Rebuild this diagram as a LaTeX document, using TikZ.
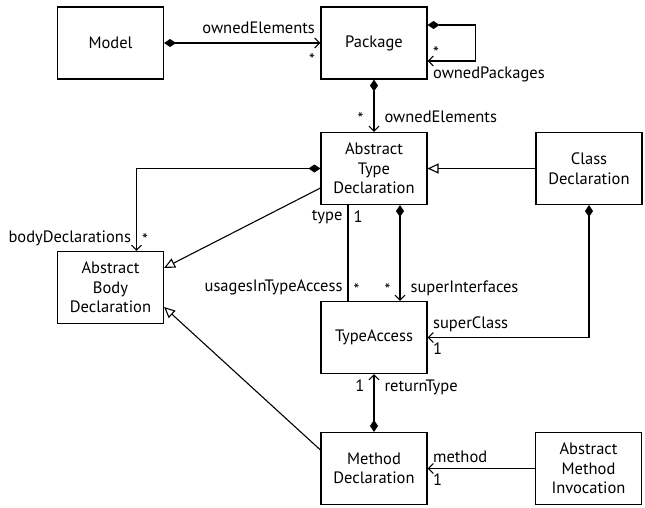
\documentclass[tikz,border=0pt]{standalone}
\usepackage{fontspec}
\setmainfont{PT Sans}
\usetikzlibrary{arrows.meta}

\tikzset{
  cls/.style={shape=rectangle,draw,minimum width=106pt,minimum height=72pt,align=center,inner sep=2pt},
  lbl/.style={inner sep=5pt},
  comp/.style={{Diamond[length=12pt,width=8pt]}-{Straight Barb[length=5pt,width=10pt]}},
  inh/.style={-{Triangle[open,length=11pt,width=10pt]}}
}

\begin{document}
\begin{tikzpicture}[x=1pt,y=-1pt,line width=1.1pt,>={Straight Barb[length=5pt,width=10pt]},
    font=\fontsize{16.5}{19.5}\selectfont]
  \useasboundingbox (0,0) rectangle (645,507);

  \node[cls] (Model)                                   at (110.5,43) {Model};
  \node[cls] (Package)  [right of=Model,   node distance=263.5pt]  {Package};
  \node[cls] (TypeDecl) [below of=Package, node distance=125.5pt]  {Abstract\\Type\\Declaration};
  \node[cls] (ClassDecl)[right of=TypeDecl,node distance=215pt]    {Class\\Declaration};
  \node[cls] (TypeAcc)  [below of=TypeDecl,node distance=169pt]    {TypeAccess};
  \node[cls] (MethDecl) [below of=TypeAcc, node distance=131pt]    {Method\\Declaration};
  \node[cls] (MethInv)  [right of=MethDecl,node distance=214.5pt]  {Abstract\\Method\\Invocation};
  \node[cls] (BodyDecl) [below of=Model,   node distance=244.5pt]  {Abstract\\Body\\Declaration};

  % compositions
  \draw[comp] (Model) -- (Package)
    node[lbl,pos=1,above left,yshift=4pt] {ownedElements} node[lbl,pos=1,below left,yshift=-5pt] {*};
  \draw[comp] ([yshift=18pt]Package.east) -- ++(48,0) |- ([yshift=-18pt]Package.east)
    node[lbl,pos=1,above right,yshift=-3pt] {*} node[lbl,pos=1,below right] {ownedPackages};
  \draw[comp] (Package) -- (TypeDecl)
    node[lbl,pos=1,above left,xshift=-5pt,yshift=2pt] {*}
    node[lbl,pos=1,above right,xshift=5pt,yshift=4pt] {ownedElements};
  \draw[comp] (TypeDecl.west) -| ([xshift=26pt]BodyDecl.north)
    node[lbl,pos=1,above left] {bodyDeclarations} node[lbl,pos=1,above right] {*};
  \draw[comp] ([xshift=26pt]TypeDecl.south) -- ([xshift=26pt]TypeAcc.north)
    node[lbl,pos=1,above left,xshift=-4pt] {*} node[lbl,pos=1,above right,xshift=5pt] {superInterfaces};
  \draw[comp] (ClassDecl.south) |- (TypeAcc.east)
    node[lbl,pos=1,above right] {superClass} node[lbl,pos=1,below right] {1};
  \draw[comp] (MethDecl) -- (TypeAcc)
    node[lbl,pos=1,below left,xshift=-4pt] {1} node[lbl,pos=1,below right,xshift=5pt] {returnType};

  % plain associations
  \draw ([xshift=-26pt]TypeDecl.south) -- ([xshift=-26pt]TypeAcc.north)
    node[lbl,pos=0,below left] {type} node[lbl,pos=0,below right] {1}
    node[lbl,pos=1,above left] {usagesInTypeAccess} node[lbl,pos=1,above right] {*};
  \draw[->] (MethInv) -- (MethDecl)
    node[lbl,pos=1,above right] {method} node[lbl,pos=1,below right] {1};

  % generalizations
  \draw[inh] (ClassDecl) -- (TypeDecl);
  \draw[inh] ([yshift=-19.5pt]TypeDecl.west) -- ([yshift=19.5pt]BodyDecl.east);
  \draw[inh] ([yshift=18.5pt]MethDecl.west) -- ([yshift=-19.5pt]BodyDecl.east);
\end{tikzpicture}
\end{document}
